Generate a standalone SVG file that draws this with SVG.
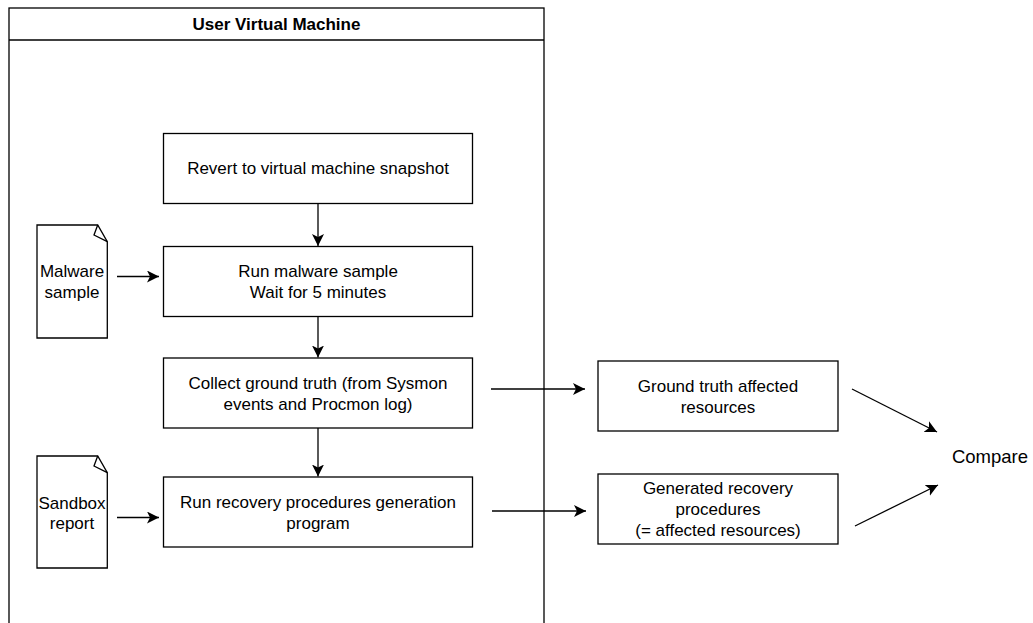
<svg xmlns="http://www.w3.org/2000/svg" width="1033" height="623" viewBox="0 0 1033 623">
<defs>
<marker id="arr" markerUnits="userSpaceOnUse" markerWidth="14" markerHeight="14" refX="12" refY="6" orient="auto">
<path d="M0,0 L12,6 L0,12 L3,6 Z" fill="#000"/>
</marker>
<style>
.box{fill:#fff;stroke:#000;stroke-width:1.3}
.t{font-family:"Liberation Sans",Arial,sans-serif;font-size:17px;fill:#000;text-anchor:middle}
.b{font-weight:bold}
.c{fill:none;stroke:#000;stroke-width:1.3;marker-end:url(#arr)}
</style>
</defs>
<rect width="1033" height="623" fill="#fff"/>
<g id="container">
<rect class="box" x="9" y="8" width="535" height="700"/>
<line x1="9" y1="40" x2="544" y2="40" stroke="#000" stroke-width="1.3"/>
<text class="t b" x="276.5" y="30">User Virtual Machine</text>
</g>
<g id="revert">
<rect class="box" x="163.5" y="133.5" width="309" height="70"/>
<text class="t" x="318" y="174">Revert to virtual machine snapshot</text>
</g>
<g id="run-malware">
<rect class="box" x="163.5" y="246.5" width="309" height="70"/>
<text class="t" x="318" y="276.5">Run malware sample</text>
<text class="t" x="318" y="297.5">Wait for 5 minutes</text>
</g>
<g id="collect">
<rect class="box" x="163.5" y="358" width="309" height="70"/>
<text class="t" x="318" y="388.5">Collect ground truth (from Sysmon</text>
<text class="t" x="318" y="409.5">events and Procmon log)</text>
</g>
<g id="recovery">
<rect class="box" x="163.5" y="477" width="309" height="70"/>
<text class="t" x="318" y="507.5">Run recovery procedures generation</text>
<text class="t" x="318" y="528.5">program</text>
</g>
<g id="malware-doc">
<path class="box" d="M37,225 H97.7 L107.3,241.7 V338 H37 Z"/>
<path d="M97.7,225 L94,235 L107.3,241.7" fill="none" stroke="#000" stroke-width="1.3"/>
<text class="t" x="72" y="277">Malware</text>
<text class="t" x="72" y="298">sample</text>
</g>
<g id="sandbox-doc">
<path class="box" d="M37,456 H97.7 L107.3,472.7 V568 H37 Z"/>
<path d="M97.7,456 L94,466 L107.3,472.7" fill="none" stroke="#000" stroke-width="1.3"/>
<text class="t" x="72" y="509">Sandbox</text>
<text class="t" x="72" y="529">report</text>
</g>
<g id="ground-truth">
<rect class="box" x="598" y="361" width="240" height="70"/>
<text class="t" x="718" y="391.5">Ground truth affected</text>
<text class="t" x="718" y="412.5">resources</text>
</g>
<g id="generated">
<rect class="box" x="598" y="474" width="240" height="70"/>
<text class="t" x="718" y="494">Generated recovery</text>
<text class="t" x="718" y="515">procedures</text>
<text class="t" x="718" y="536">(= affected resources)</text>
</g>
<g id="compare">
<text class="t" x="990" y="463" style="font-size:18.5px">Compare</text>
</g>
<g id="connectors">
<line class="c" x1="318" y1="203.5" x2="318" y2="246"/>
<line class="c" x1="318" y1="316.5" x2="318" y2="357.5"/>
<line class="c" x1="318" y1="428" x2="318" y2="476.5"/>
<line class="c" x1="117" y1="276.5" x2="159" y2="276.5"/>
<line class="c" x1="117" y1="517.5" x2="159" y2="517.5"/>
<line class="c" x1="491" y1="389" x2="585" y2="389"/>
<line class="c" x1="492" y1="511" x2="586" y2="511"/>
<line class="c" x1="852" y1="389" x2="937" y2="432"/>
<line class="c" x1="855" y1="526" x2="938" y2="485"/>
</g>
</svg>
